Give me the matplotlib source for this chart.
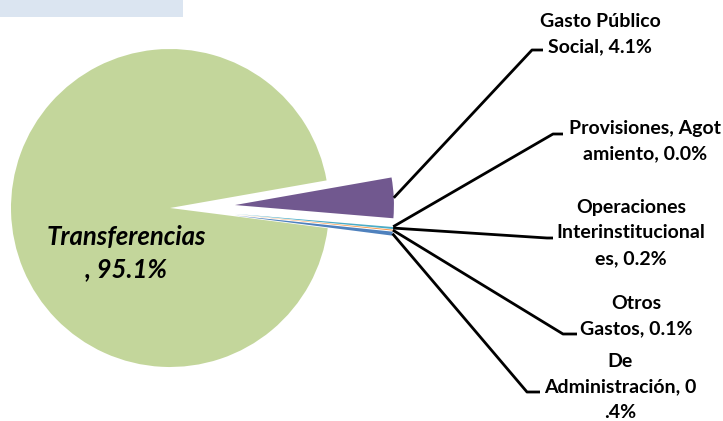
import matplotlib
matplotlib.use("Agg")
import matplotlib.pyplot as plt
from matplotlib.patches import Rectangle
import numpy as np

categories = ["Transferencias", "Gasto Público Social", "Provisiones, Agotamiento",
              "Operaciones Interinstitucionales", "Otros Gastos", "De Administración"]
values = [95.1, 4.1, 0.0, 0.2, 0.1, 0.4]
label_texts = ["Transferencias\n, 95.1%", "Gasto Público\nSocial, 4.1%",
               "Provisiones, Agot\namiento, 0.0%", "Operaciones\nInterinstitucional\nes, 0.2%",
               "Otros\nGastos, 0.1%", "De\nAdministración, 0\n.4%"]
colors = ["#C3D69B", "#71588F", "#9BBB59", "#4BACC6", "#F79646", "#4F81BD"]

W, H = 723, 421
fig = plt.figure(figsize=(W / 100, H / 100), dpi=100)
ax = fig.add_axes([0, 0, 1, 1])

FONT = ["Lato", "DejaVu Sans"]

cx, cy, R = 170, H - 208, 159
off = 65
explode = [0, off, off, off, off, off]
wedges, _ = ax.pie(values, colors=colors, startangle=-7.3, counterclock=False,
                   center=(cx, cy), radius=R, explode=explode, frame=True,
                   wedgeprops=dict(linewidth=0))
ax.set_xlim(0, W)
ax.set_ylim(0, H)
ax.set_aspect("equal")
ax.axis("off")

# title box partially visible at top-left
ax.add_patch(Rectangle((0, H - 17), 183, 17, facecolor="#DBE5F1", edgecolor="none"))

# main label
ax.text(126, H - 253, label_texts[0], ha="center", va="center", fontsize=18.5,
        fontweight="bold", fontstyle="italic", family=FONT, linespacing=1.38)

# right labels: (text center x, text center y, elbow x, elbow y, horizontal end x)
layout = [
    None,
    (600, 34, 532, 50, 543),
    (645, 141, 553, 134, 563),
    (631, 233, 547, 238, 553),
    (636, 316, 563, 334, 577),
    (620, 387, 527, 392, 540),
]
for i in range(1, len(values)):
    w = wedges[i]
    ang = np.deg2rad((w.theta1 + w.theta2) / 2)
    wx, wy = w.center
    px, py = wx + w.r * np.cos(ang), wy + w.r * np.sin(ang)
    tx, ty, ex, ey, hx = layout[i]
    ax.plot([px, ex, hx], [py, H - ey, H - ey], color="black", lw=2,
            solid_capstyle="butt")
    ax.text(tx, H - ty, label_texts[i], ha="center", va="center", fontsize=14,
            fontweight="bold", family=FONT, linespacing=1.62)

fig.savefig("out.png", dpi=100)
